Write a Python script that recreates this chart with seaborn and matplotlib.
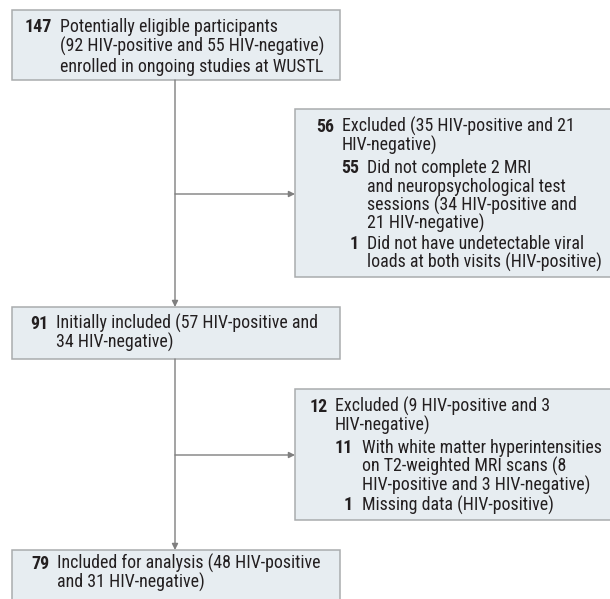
import matplotlib
matplotlib.use("Agg")
import matplotlib.pyplot as plt
from matplotlib.patches import Rectangle
from matplotlib import font_manager
import seaborn as sns

# ---------------- data ----------------
main_counts = [147, 91, 79]
main_lines = [
    ["Potentially eligible participants",
     "(92 HIV-positive and 55 HIV-negative)",
     "enrolled in ongoing studies at WUSTL"],
    ["Initially included (57 HIV-positive and",
     "34 HIV-negative)"],
    ["Included for analysis (48 HIV-positive",
     "and 31 HIV-negative)"],
]
excl_counts = [56, 12]
excl_lines = [
    ["Excluded (35 HIV-positive and 21", "HIV-negative)"],
    ["Excluded (9 HIV-positive and 3", "HIV-negative)"],
]
sub_counts = [[55, 1], [11, 1]]
sub_lines = [
    [["Did not complete 2 MRI", "and neuropsychological test",
      "sessions (34 HIV-positive and", "21 HIV-negative)"],
     ["Did not have undetectable viral", "loads at both visits (HIV-positive)"]],
    [["With white matter hyperintensities", "on T2-weighted MRI scans (8",
      "HIV-positive and 3 HIV-negative)"],
     ["Missing data (HIV-positive)"]],
]

# ---------------- style ----------------
sns.set_theme(style="white")
available = {f.name for f in font_manager.fontManager.ttflist}
family = "DejaVu Sans"
for cand in ["Liberation Sans Narrow", "Roboto Condensed", "Open Sans Condensed",
             "DejaVu Sans Condensed"]:
    if cand in available:
        family = cand
        break
plt.rcParams["font.family"] = [family, "DejaVu Sans"]

FILL = "#e7edf1"
EDGE = "#a9acae"
LINE = "#7f7f7f"
TXT = "#231f20"

W, H = 610, 599
fig = plt.figure(figsize=(W / 100, H / 100), dpi=100)
ax = fig.add_axes([0, 0, 1, 1])
ax.set_xlim(0, W)
ax.set_ylim(H, 0)
ax.axis("off")

# auto-fit font size to reference text width
fig.canvas.draw()
rend = fig.canvas.get_renderer()
probe = ax.text(0, 0, "Potentially eligible participants", fontsize=10)
wpx = probe.get_window_extent(rend).width
probe.remove()
FS = 10 * 216.0 / wpx

def box(x0, y0, x1, y1):
    ax.add_patch(Rectangle((x0, y0), x1 - x0, y1 - y0, facecolor=FILL,
                           edgecolor=EDGE, lw=1.1, zorder=1))

def entry(num, lines, xnum, xtxt, y0, dy):
    ax.text(xnum, y0, str(num), ha="right", va="baseline", fontsize=FS,
            fontweight="bold", color=TXT, zorder=3)
    for i, ln in enumerate(lines):
        ax.text(xtxt, y0 + i * dy, ln, ha="left", va="baseline", fontsize=FS,
                color=TXT, zorder=3)
    return y0 + (len(lines) - 1) * dy

def arrow(x0, y0, x1, y1):
    ax.annotate("", xy=(x1, y1), xytext=(x0, y0),
                arrowprops=dict(arrowstyle="-|>", color=LINE, lw=1.0,
                                mutation_scale=9, shrinkA=0, shrinkB=0),
                zorder=2)

# main boxes
main_boxes = [(12, 10, 340, 80), (12, 307, 340, 359), (12, 550, 340, 640)]
main_first = [32, 329, 569]
main_dy = [20, 19, 18.5]
main_num_x = [52, 48, 49]
main_txt_x = [60, 56, 57]
for i in range(3):
    box(*main_boxes[i])
    entry(main_counts[i], main_lines[i], main_num_x[i], main_txt_x[i],
          main_first[i], main_dy[i])

# exclusion boxes
excl_boxes = [(295, 109, 615, 277), (295, 389, 615, 520)]
excl_first = [132, 412]
excl_num_x = [334, 328]
excl_txt_x = [342, 335]
sub_num_x = [359, 353]
sub_txt_x = [367, 362]
DY = 18.7
for i in range(2):
    box(*excl_boxes[i])
    y = entry(excl_counts[i], excl_lines[i], excl_num_x[i], excl_txt_x[i],
              excl_first[i], DY)
    for j in range(len(sub_counts[i])):
        y = y + DY + (3.5 if j == 0 else 1.5)
        y = entry(sub_counts[i][j], sub_lines[i][j], sub_num_x[i],
                  sub_txt_x[i], y, DY)

# connectors
XC = 175
arrow(XC, 80, XC, 307)
arrow(XC, 194, 295, 194)
arrow(XC, 359, XC, 550)
arrow(XC, 455, 295, 455)

fig.savefig("out.png", dpi=100, facecolor="white")
